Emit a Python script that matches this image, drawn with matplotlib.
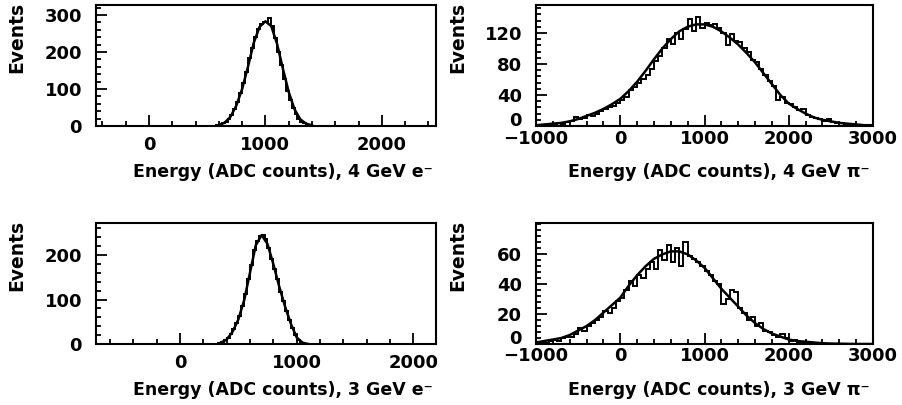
import numpy as np
import matplotlib
matplotlib.use("Agg")
from matplotlib import pyplot as plt
from matplotlib.ticker import MultipleLocator
import matplotlib.transforms as mtransforms

# ---- data ----
# electrons: 25-count wide bins, first left edge given
e4_start = 575
e4_hist = [2, 4, 7, 12, 20, 31, 46, 64, 88, 115, 145, 185, 210, 240, 262, 275, 280,
           282, 291, 270, 238, 200, 165, 128, 95, 70, 48, 32, 20, 12, 7, 4, 2]
e4_fit_x = np.arange(600, 1450, 50)
e4_fit_y = [3, 9, 25, 55, 100, 160, 225, 268, 283, 270, 222, 155, 92, 45, 18, 6, 2]

e3_start = 325
e3_hist = [2, 4, 8, 14, 22, 34, 48, 64, 85, 112, 145, 178, 212, 232, 243, 245, 236,
           215, 190, 168, 145, 118, 96, 75, 55, 36, 20, 10, 4, 1, 0]
e3_fit_x = np.arange(350, 1150, 50)
e3_fit_y = [3, 10, 27, 55, 98, 160, 222, 245, 225, 180, 130, 85, 46, 15, 3, 0]

# pions: 50-count wide bins from -1000 to 3000
pi_start = -1000
pi4_hist = [0, 1, 1, 3, 2, 4, 3, 5, 6, 11, 9, 10, 14, 13, 16, 19, 22, 24, 26, 30,
            33, 38, 46, 50, 55, 60, 66, 74, 84, 90, 101, 112, 106, 120, 112, 125, 138, 122, 141, 126,
            133, 130, 131, 126, 120, 104, 118, 110, 108, 100, 96, 85, 82, 74, 66, 58, 52, 34, 38, 30,
            29, 24, 20, 22, 14, 12, 10, 9, 7, 9, 5, 4, 4, 3, 3, 2, 1, 1, 0, 0]
pi3_hist = [0, 1, 1, 2, 3, 2, 4, 5, 5, 7, 11, 9, 12, 14, 16, 18, 22, 21, 24, 29,
            31, 36, 42, 39, 46, 44, 50, 55, 50, 63, 56, 66, 55, 64, 52, 68, 59, 57, 55, 52,
            49, 46, 42, 40, 27, 30, 36, 35, 24, 21, 16, 18, 12, 14, 9, 8, 6, 5, 7, 4,
            2, 3, 1, 1, 1, 0, 1, 0, 0, 0, 0, 0, 0, 0, 0, 0, 0, 0, 0, 0]
pi_fit_x = np.arange(-1000, 3100, 100)
pi4_fit_y = [1, 2, 3, 4, 6, 9, 13, 17, 22, 28, 35, 45, 57, 71, 86, 100, 112, 122, 128, 131,
             131, 128, 122, 114, 105, 94, 82, 68, 54, 40, 29, 22, 16, 11, 8, 6, 4, 3, 2, 1, 1]
pi3_fit_y = [1, 2, 3, 4, 6, 9, 12, 16, 21, 26, 31, 39, 46, 52, 57, 60, 62, 62, 60, 56,
             51, 44, 37, 31, 25, 19, 14, 10, 7, 5, 3, 2, 1.5, 1, 0.5, 0.3, 0.2, 0.1, 0, 0, 0]

labels = ["Energy (ADC counts), 4 GeV e\u207b", "Energy (ADC counts), 4 GeV \u03c0\u207b",
          "Energy (ADC counts), 3 GeV e\u207b", "Energy (ADC counts), 3 GeV \u03c0\u207b"]

plt.rcParams["font.family"] = ["DejaVu Sans"]
fig = plt.figure(figsize=(9.02, 4.05), dpi=100)

W, H = 902.0, 405.0
def place(x0, x1, y0, y1):
    return fig.add_axes([x0 / W, 1 - y1 / H, (x1 - x0) / W, (y1 - y0) / H])

ax_tl = place(96, 436, 5, 126)
ax_tr = place(536, 873, 5, 126)
ax_bl = place(96, 436, 223, 344)
ax_br = place(536, 873, 223, 344)

panels = [
    (ax_tl, e4_start, 25, e4_hist, e4_fit_x, e4_fit_y, (-455, 2465), (0, 327), [0, 100, 200, 300], 20, labels[0], 7),
    (ax_tr, pi_start, 50, pi4_hist, pi_fit_x, pi4_fit_y, (-1000, 3000), (0, 156), [0, 40, 80, 120], 8, labels[1], 3),
    (ax_bl, e3_start, 25, e3_hist, e3_fit_x, e3_fit_y, (-720, 2195), (0, 272), [0, 100, 200], 20, labels[2], 7),
    (ax_br, pi_start, 50, pi3_hist, pi_fit_x, pi3_fit_y, (-1000, 3000), (0, 81), [0, 20, 40, 60], 4, labels[3], 2),
]

for ax, start, bw, hist, fx, fy, xl, yl, yticks, ymin, lab, xpad in panels:
    edges = start + bw * np.arange(len(hist) + 1)
    ax.stairs(hist, edges, color="black", linewidth=1.4)
    ax.plot(fx, fy, color="black", linewidth=1.8)
    ax.set_xlim(*xl)
    ax.set_ylim(*yl)
    ax.xaxis.set_major_locator(MultipleLocator(1000))
    ax.xaxis.set_minor_locator(MultipleLocator(200))
    ax.set_yticks(yticks)
    ax.yaxis.set_minor_locator(MultipleLocator(ymin))
    ax.tick_params(which="both", direction="in", top=False, right=False, width=1.3)
    ax.tick_params(which="major", length=8)
    ax.tick_params(which="minor", length=3.5)
    ax.tick_params(axis="x", which="major", pad=xpad)
    ax.tick_params(axis="y", which="major", pad=10)
    for t in ax.get_xticklabels() + ax.get_yticklabels():
        t.set_fontsize(13)
        t.set_fontweight("bold")
    for s in ax.spines.values():
        s.set_linewidth(1.5)
    ax.set_xlabel(lab, fontsize=12.5, fontweight="bold")
    ax.xaxis.set_label_coords(0.99, -0.38)
    ax.xaxis.label.set_horizontalalignment("right")
    ax.xaxis.label.set_verticalalignment("center")
    ax.set_ylabel("Events", fontsize=13.5, fontweight="bold")
    ax.yaxis.set_label_coords(-0.232, 0.73)
    ax.yaxis.label.set_verticalalignment("center")
    ax.yaxis.label.set_horizontalalignment("center")

# pion panels: the y "0" sits higher so it clears the -1000 below it
shift = mtransforms.ScaledTranslation(0, 7 / 100, fig.dpi_scale_trans)
for ax in (ax_tr, ax_br):
    zero = ax.get_yticklabels()[0]
    zero.set_transform(zero.get_transform() + shift)

fig.savefig("out.png", dpi=100)
